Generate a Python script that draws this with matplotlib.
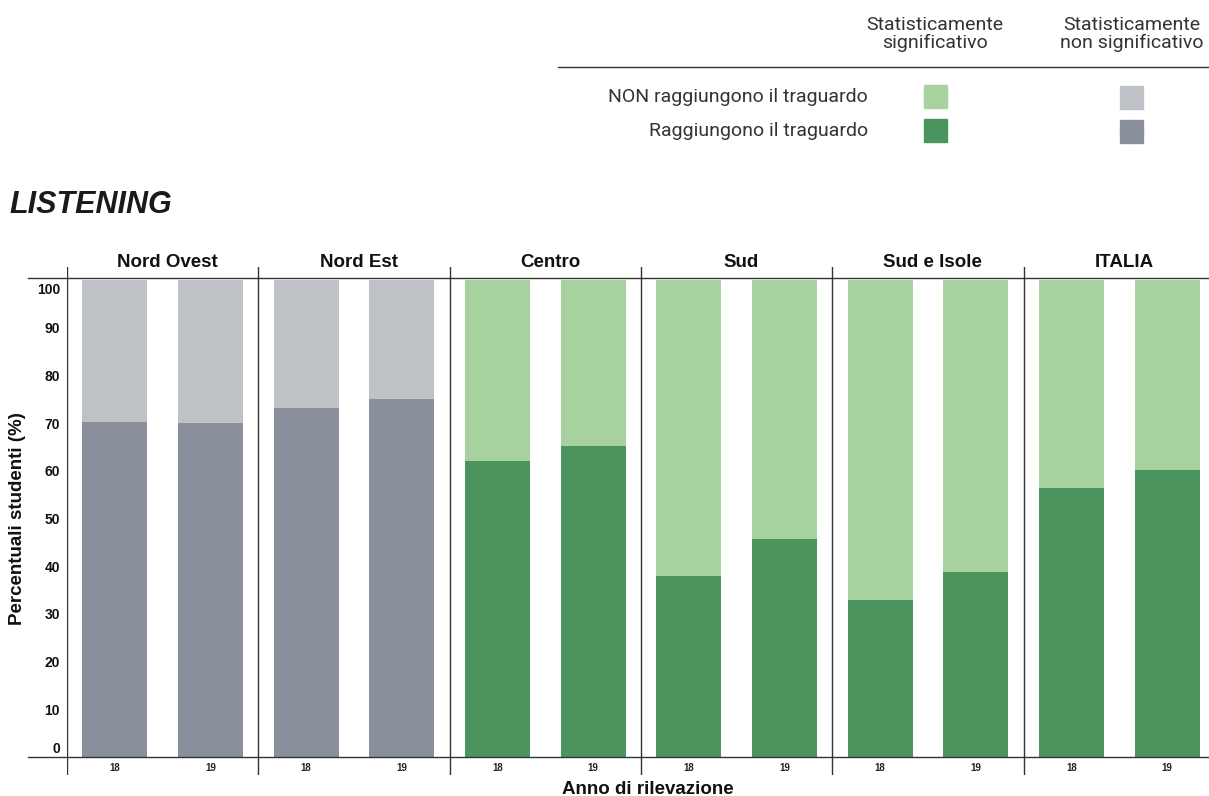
import matplotlib.pyplot as plt
from matplotlib.patches import Rectangle
from matplotlib.lines import Line2D

# data
regions = ['Nord Ovest', 'Nord Est', 'Centro', 'Sud', 'Sud e Isole', 'ITALIA']
years = ['18', '19']
reach = [[70.2, 70.0], [73.2, 75.1], [62.1, 65.3], [38.0, 45.8], [32.9, 38.8], [56.4, 60.2]]
significant = [False, False, True, True, True, True]
y_ticks = [0, 10, 20, 30, 40, 50, 60, 70, 80, 90, 100]

light_green = '#a8d1a0'
dark_green = '#4c945e'
light_gray = '#bec2c7'
dark_gray = '#898f9b'

W, H = 1209, 796
fig = plt.figure(figsize=(W / 100, H / 100), dpi=100)
plt.rcParams['font.family'] = ['Liberation Sans', 'DejaVu Sans']


def fx(px):
    return px / W


def fy(py):
    return 1 - py / H


# main axes: panels from x=67 to 1215 px, y 0 at 757 px, 100 at 280 px
ppu = (757 - 280) / 100
ymin = -(775 - 757) / ppu
ymax = (757 - 267) / ppu
ax = fig.add_axes([fx(67), fy(775), (1215 - 67) / W, (775 - 267) / H])
ax.set_xlim(0, 2 * len(regions))
ax.set_ylim(ymin, ymax)
for s in ax.spines.values():
    s.set_visible(False)
ax.set_xticks([])

for i, reg in enumerate(regions):
    low = dark_green if significant[i] else dark_gray
    high = light_green if significant[i] else light_gray
    for j, yr in enumerate(years):
        x = 2 * i + 0.5 + j
        v = reach[i][j]
        ax.bar(x, v, width=0.68, color=low, linewidth=0)
        ax.bar(x, 100 - v, bottom=v, width=0.68, color=high, linewidth=0)
        ax.text(x, -2.3, yr, ha='center', va='center', fontsize=7, fontweight='bold', color='#222222')
    ax.axvline(2 * i, color='#333333', lw=1)
    ax.text(2 * i + 1.05, 103.6, reg, ha='center', va='center', fontsize=13.5, fontweight='bold',
            color='#111111', clip_on=False)

# y tick labels (0 and 100 nudged inside like the original)
pos = list(y_ticks)
pos[0] = 1.9
pos[-1] = 98.3
ax.set_yticks(pos)
ax.set_yticklabels([str(t) for t in y_ticks], fontsize=10, fontweight='bold', color='#111111')
ax.tick_params(axis='y', length=0, pad=5)

# horizontal frame lines
fig.add_artist(Line2D([fx(28), 1], [fy(278), fy(278)], color='#333333', lw=1))
fig.add_artist(Line2D([fx(28), 1], [fy(757), fy(757)], color='#333333', lw=1))

fig.text(fx(18), fy(519), 'Percentuali studenti (%)', rotation=90, ha='center', va='center',
         fontsize=13.5, fontweight='bold', color='#111111')
fig.text(fx(648), fy(789), 'Anno di rilevazione', ha='center', va='center',
         fontsize=13.5, fontweight='bold', color='#111111')
fig.text(fx(9), fy(205), 'LISTENING', ha='left', va='center', fontsize=22,
         fontweight='bold', fontstyle='italic', color='#1a1a1a')

# legend
leg_font = dict(fontsize=14, color='#333333', family=['Roboto', 'DejaVu Sans'])
fig.text(fx(935), fy(34), 'Statisticamente\nsignificativo', ha='center', va='center',
         linespacing=0.95, **leg_font)
fig.text(fx(1132), fy(34), 'Statisticamente\nnon significativo', ha='center', va='center',
         linespacing=0.95, **leg_font)
fig.add_artist(Line2D([fx(558), 1], [fy(67), fy(67)], color='#333333', lw=1))
fig.text(fx(868), fy(97), 'NON raggiungono il traguardo', ha='right', va='center', **leg_font)
fig.text(fx(868), fy(131), 'Raggiungono il traguardo', ha='right', va='center', **leg_font)
for xp, yp, c in [(924, 85, light_green), (924, 119, dark_green),
                  (1120, 86, light_gray), (1120, 120, dark_gray)]:
    fig.add_artist(Rectangle((fx(xp), fy(yp + 23)), 23 / W, 23 / H, color=c,
                             transform=fig.transFigure))

fig.savefig('out.png', dpi=100)
